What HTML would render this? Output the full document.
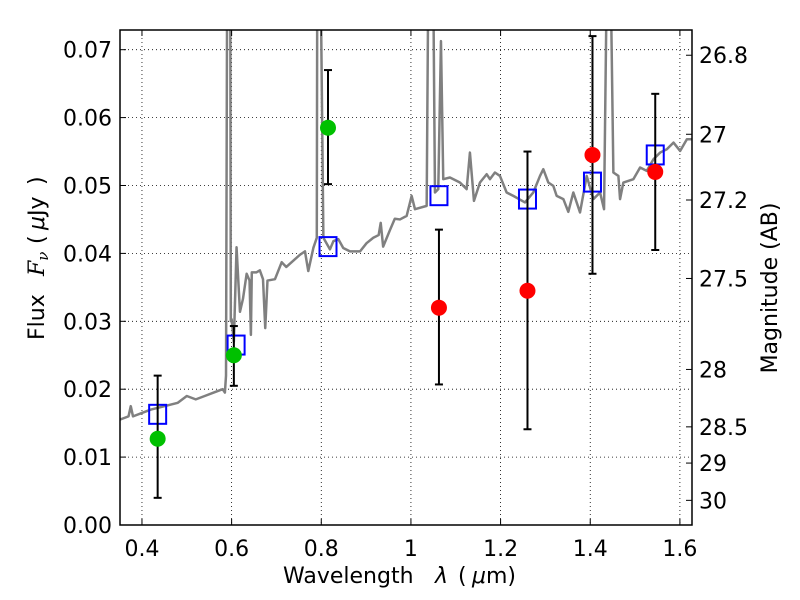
<!DOCTYPE html>
<html><head><meta charset="utf-8"><style>
body{margin:0;background:#fff;}
svg{display:block;font-family:"DejaVu Sans","Liberation Sans",sans-serif;}
</style></head><body>
<svg id="chart" width="800" height="600" xmlns="http://www.w3.org/2000/svg"></svg>
<script>
const specX=[0.35,0.37,0.375,0.38,0.40,0.42,0.45,0.48,0.50,0.52,0.54,0.56,0.58,0.585,0.5875,0.59,0.597,0.5982,0.60,0.605,0.611,0.6186,0.6253,0.6335,0.640,0.643,0.645,0.655,0.663,0.670,0.675,0.680,0.6967,0.7117,0.722,0.7525,0.7636,0.771,0.7823,0.79,0.791,0.7987,0.8047,0.8194,0.827,0.838,0.849,0.864,0.8865,0.901,0.916,0.928,0.9326,0.938,0.953,0.964,0.9755,0.9905,1.0016,1.009,1.0351,1.0387,1.0498,1.0536,1.061,1.067,1.0721,1.087,1.1093,1.1243,1.1316,1.1406,1.154,1.1689,1.1763,1.1874,1.1986,1.2135,1.2284,1.2544,1.273,1.2879,1.2953,1.3065,1.3176,1.3251,1.34,1.3511,1.3623,1.3772,1.3921,1.407,1.4219,1.4308,1.4368,1.4457,1.4516,1.4628,1.4665,1.4739,1.4963,1.5112,1.5261,1.541,1.5559,1.5708,1.5857,1.6006,1.6156,1.629];
const specY=[0.0155,0.016,0.0175,0.016,0.0165,0.017,0.0175,0.018,0.019,0.0185,0.019,0.0195,0.02,0.0195,0.022,0.08,0.08,0.03,0.0303,0.027,0.0409,0.0314,0.0333,0.0370,0.036,0.028,0.0372,0.0372,0.0375,0.0362,0.029,0.036,0.0362,0.0387,0.0380,0.0398,0.0403,0.0374,0.0408,0.0423,0.08,0.08,0.0423,0.0406,0.0418,0.0421,0.0408,0.0403,0.0403,0.0415,0.0423,0.0427,0.0445,0.0410,0.0434,0.0451,0.045,0.04553,0.04847,0.04651,0.0470,0.08,0.08,0.04897,0.04946,0.07126,0.05093,0.05118,0.05044,0.04946,0.05485,0.04774,0.05044,0.05166,0.05093,0.05191,0.05141,0.04897,0.04847,0.0475,0.04897,0.05141,0.0524,0.05044,0.04994,0.04847,0.048,0.04612,0.04897,0.04603,0.05141,0.048,0.04897,0.04651,0.08,0.08,0.05191,0.05141,0.048,0.05044,0.05093,0.05265,0.05215,0.05387,0.05485,0.05534,0.05632,0.05509,0.05681,0.05681];
const greenX=[0.435,0.605,0.815];
const greenY=[0.0127,0.025,0.0585];
const greenLo=[0.004,0.0205,0.0502];
const greenHi=[0.022,0.0293,0.067];
const redX=[1.0625,1.26,1.405,1.545];
const redY=[0.032,0.0345,0.0545,0.052];
const redLo=[0.0207,0.0141,0.037,0.0405];
const redHi=[0.0435,0.055,0.072,0.0635];
const boxX=[0.435,0.61,0.815,1.0625,1.26,1.405,1.545];
const boxY=[0.0163,0.0265,0.041,0.0485,0.048,0.0505,0.0545];
const xTicks=[0.4,0.6,0.8,1.0,1.2,1.4,1.6];
const xTickLabels=["0.4","0.6","0.8","1","1.2","1.4","1.6"];
const yTicks=[0,0.01,0.02,0.03,0.04,0.05,0.06,0.07];
const yTickLabels=["0.00","0.01","0.02","0.03","0.04","0.05","0.06","0.07"];
const magTicks=[26.8,27,27.2,27.5,28,28.5,29,30];
const magLabels=["26.8","27","27.2","27.5","28","28.5","29","30"];

const L=120,R=692,T=30,B=525;
const X0=0.351,X1=1.627,Y0=0,Y1=0.0729;
const sx=v=>L+(v-X0)/(X1-X0)*(R-L);
const sy=v=>B-(v-Y0)/(Y1-Y0)*(B-T);
const NS="http://www.w3.org/2000/svg";
const svg=document.getElementById('chart');
function mk(tag,attrs,parent){const e=document.createElementNS(NS,tag);for(const k in attrs)e.setAttribute(k,attrs[k]);(parent||svg).appendChild(e);return e;}
const defs=mk('defs',{});
const cp=mk('clipPath',{id:'clip'},defs);
mk('rect',{x:L,y:T,width:R-L,height:B-T},cp);

const grid=mk('g',{});


xTicks.forEach(v=>mk('line',{x1:sx(v),x2:sx(v),y1:T,y2:B,stroke:'#000','stroke-width':0.8,'stroke-dasharray':'1,3'},grid));
yTicks.forEach(v=>mk('line',{x1:L,x2:R,y1:sy(v),y2:sy(v),stroke:'#000','stroke-width':0.8,'stroke-dasharray':'1,3'},grid));

const spec=mk('polyline',{points:specX.map((x,i)=>sx(x)+','+sy(specY[i])).join(' '),fill:'none',stroke:'#808080','stroke-width':2.5,'stroke-linejoin':'round','clip-path':'url(#clip)'});



function errbar(x,lo,hi){
 const g=mk('g',{});
 
 
 mk('line',{x1:sx(x),x2:sx(x),y1:sy(lo),y2:sy(hi),stroke:'#000','stroke-width':2},g);
 mk('line',{x1:sx(x)-4,x2:sx(x)+4,y1:sy(lo),y2:sy(lo),stroke:'#000','stroke-width':2},g);
 mk('line',{x1:sx(x)-4,x2:sx(x)+4,y1:sy(hi),y2:sy(hi),stroke:'#000','stroke-width':2},g);
}
boxX.forEach((x,i)=>{const r=mk('rect',{x:sx(x)-8.5,y:sy(boxY[i])-9.5,width:17,height:19,fill:'none',stroke:'#0000ff','stroke-width':2});
 
 });
greenX.forEach((x,i)=>{errbar(x,greenLo[i],greenHi[i]);const c=mk('circle',{cx:sx(x),cy:sy(greenY[i]),r:8,fill:'#00c000'});
 
 });
redX.forEach((x,i)=>{errbar(x,redLo[i],redHi[i]);const c=mk('circle',{cx:sx(x),cy:sy(redY[i]),r:8,fill:'#ff0000'});
 
 });

const fr=mk('rect',{x:L,y:T,width:R-L,height:B-T,fill:'none',stroke:'#000','stroke-width':1.5});



xTicks.forEach((v,i)=>{mk('line',{x1:sx(v),x2:sx(v),y1:B,y2:B-6,stroke:'#000'});mk('line',{x1:sx(v),x2:sx(v),y1:T,y2:T+6,stroke:'#000'});
 const t=mk('text',{x:sx(v),y:B+31,'font-size':22,'text-anchor':'middle'});t.textContent=xTickLabels[i];
 
 });
yTicks.forEach((v,i)=>{mk('line',{x1:L,x2:L+6,y1:sy(v),y2:sy(v),stroke:'#000'});
 const t=mk('text',{x:L-8,y:sy(v)+8,'font-size':22,'text-anchor':'end'});t.textContent=yTickLabels[i];
 
 });
magTicks.forEach((m,i)=>{const f=Math.pow(10,(23.9-m)/2.5);const y=sy(f);
 mk('line',{x1:R,x2:R-6,y1:y,y2:y,stroke:'#000'});
 const t=mk('text',{x:R+7,y:y+8,'font-size':22});t.textContent=magLabels[i];
 
 });

const xt=mk('text',{x:283,y:583,'font-size':22});
xt.innerHTML='Wavelength<tspan x="435" font-style="italic">λ</tspan><tspan x="458">(</tspan><tspan x="472" font-style="italic">μ</tspan>m)';


const yt=mk('text',{x:0,y:0,'font-size':22,transform:'translate(44,340) rotate(-90)'});
yt.innerHTML='Flux<tspan x="64" font-style="italic" font-family="DejaVu Serif,serif">F</tspan><tspan font-style="italic" font-family="DejaVu Serif,serif" font-size="15" dy="4">ν</tspan><tspan x="96" dy="-4">(</tspan><tspan x="110" font-style="italic">μ</tspan>Jy<tspan x="155">)</tspan>';


const rt=mk('text',{x:0,y:0,'font-size':22,'text-anchor':'middle',transform:'translate(777,288) rotate(-90)'});
rt.textContent='Magnitude (AB)';


</script>
</body></html>
